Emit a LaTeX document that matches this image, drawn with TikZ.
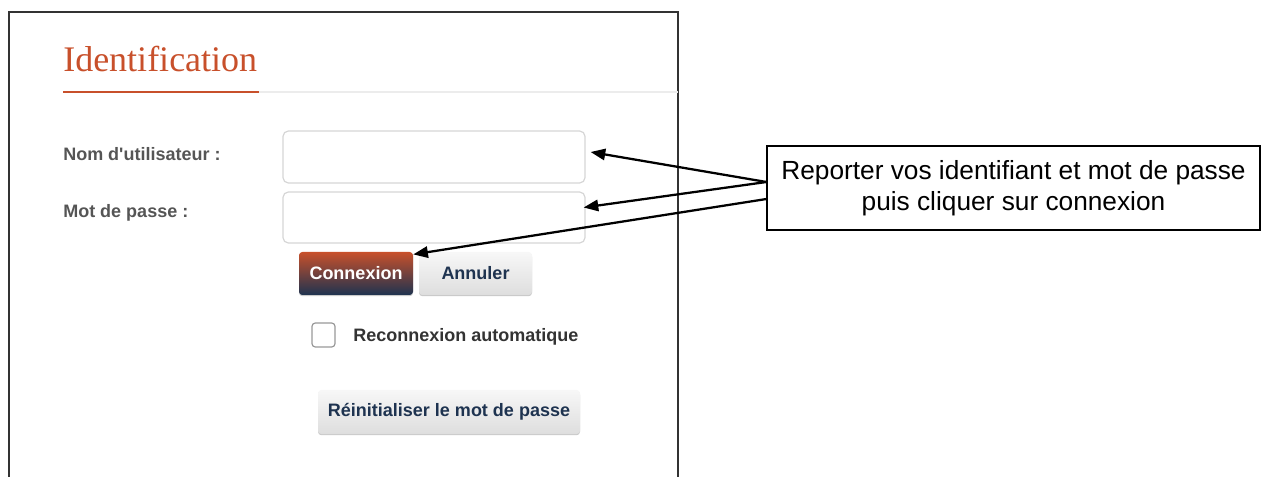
\documentclass[tikz,border=0pt]{standalone}
\usepackage{fontspec}
\setmainfont{Liberation Sans}
\newfontfamily\titlefont{Liberation Serif}
\usetikzlibrary{arrows.meta,shadows}

\definecolor{brand}{HTML}{C8502B}
\definecolor{navy}{HTML}{1E3350}
\definecolor{labelgray}{HTML}{555555}
\definecolor{fieldline}{HTML}{D6D6D6}
\definecolor{rulegray}{HTML}{ECECEC}

\begin{document}
\begin{tikzpicture}[x=0.75pt,y=-0.75pt,
  frame/.style={draw=black!80, line width=0.8pt},
  heading/.style={font=\titlefont\fontsize{27}{30}\selectfont, text=brand, inner sep=0pt},
  fieldlabel/.style={font=\bfseries\fontsize{13.5}{16}\selectfont, text=labelgray, inner sep=0pt},
  field/.style={draw=fieldline, line width=0.9pt, rounded corners=4pt, fill=white,
                minimum width=226.5pt},
  uibutton/.style={rounded corners=2.5pt, minimum height=32.25pt, inner sep=0pt,
                   font=\bfseries\fontsize{13.5}{16}\selectfont,
                   drop shadow={shadow xshift=0pt, shadow yshift=-0.9pt, opacity=0.35, fill=black!60}},
  primary/.style={uibutton, top color=brand, bottom color=navy, text=white},
  secondary/.style={uibutton, top color=black!3, bottom color=black!13, text=navy},
  tickbox/.style={draw=black!40, line width=0.9pt, rounded corners=2.5pt, fill=white,
                  minimum width=17.25pt, minimum height=18pt, inner sep=0pt},
  note/.style={draw=black, line width=0.8pt, fill=white, align=center,
               font=\fontsize{19.7}{23}\selectfont, minimum width=369.75pt, minimum height=63pt, inner sep=0pt},
  pointer/.style={line width=1.7pt, -{Triangle[length=11pt,width=8.5pt]}}
]
\useasboundingbox (0,0) rectangle (1261,477);

% panel outline, open at the bottom
\draw[frame] (9,477) -- (9,12) -- (678,12) -- (678,477);

% heading and its rule
\node[heading, anchor=base west] (title) at (63,72) {Identification};
\draw[rulegray, line width=1pt] (259,92) -- (678,92);
\draw[brand, line width=2pt] (63,92) -- (259,92);

% form fields
\node[fieldlabel, anchor=west] (userlabel) at (63,154) {Nom d\textquotesingle utilisateur :};
\node[fieldlabel, anchor=west] (passlabel) at (63,213) {Mot de passe :};
\node[field, minimum height=39pt]    (user) at (434,157) {};
\node[field, minimum height=38.25pt] (pass) at (434,217.5) {};

% buttons
\node[primary, minimum width=85.5pt]    (connect) at (356,273.5) {Connexion};
\node[secondary, minimum width=84.75pt] (cancel)  at (475.5,273.5) {Annuler};

% remember-me option
\node[tickbox] (remember) at (323.5,335) {};
\node[fieldlabel, text=black!80, anchor=west] (rememberlabel) at (353,337) {Reconnexion automatique};

\node[secondary, minimum width=196.5pt, minimum height=33pt] (reset) at (449,412) {Réinitialiser le mot de passe};

% instruction box with its pointers
\node[note] (hint) at (1013.5,188) {Reporter vos identifiant et mot de passe\\puis cliquer sur connexion};
\coordinate (from1) at ([yshift=4.5pt]hint.west);
\coordinate (from2) at ([yshift=-8.25pt]hint.west);
\draw[pointer] (from1) -- ([xshift=3.75pt,yshift=3.75pt]user.east);
\draw[pointer] (from1) -- ([xshift=-1.5pt,yshift=7.5pt]pass.east);
\draw[pointer] (from2) -- ([yshift=-2pt]connect.north east);
\end{tikzpicture}
\end{document}
